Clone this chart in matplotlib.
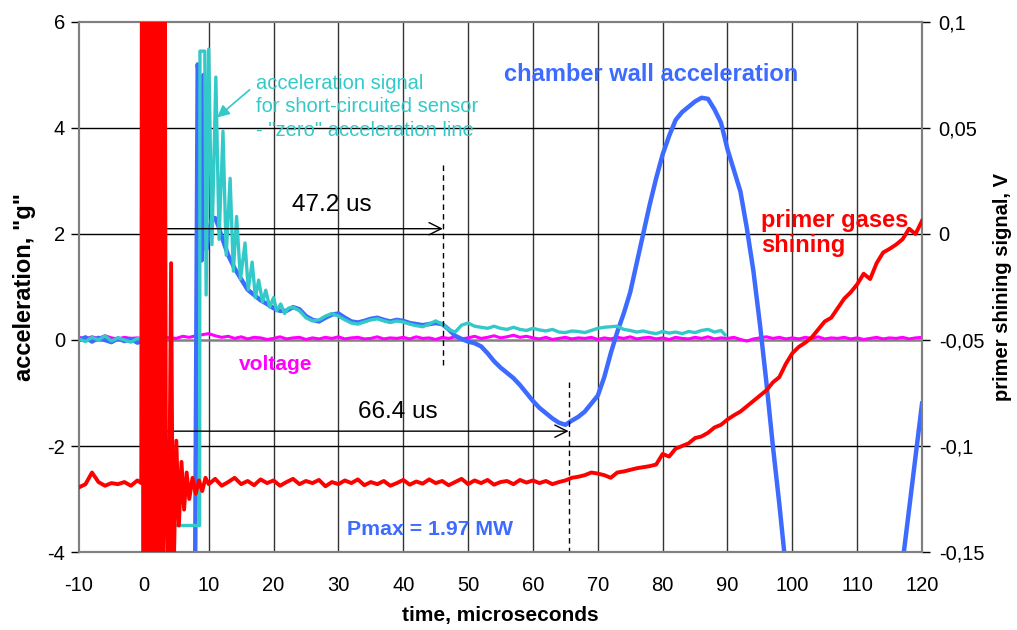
import numpy as np
import matplotlib
matplotlib.use("Agg")
from matplotlib import pyplot as plt

plt.rcParams['font.family'] = ['Liberation Sans', 'DejaVu Sans']
plt.rcParams['axes.unicode_minus'] = False

# time axis, microseconds
t_volt = list(range(-10, 121))
volt = [0.05, 0.02, 0.06, 0.03, 0.08, 0.04, 0.02, 0.05, 0.03, 0.04,
        0.02, 0.05, 0.03, 0.06, 0.04, 0.03, 0.07, 0.05, 0.08, 0.10,
        0.12, 0.08, 0.05, 0.07, 0.03, 0.06, 0.02, 0.05, 0.04, 0.01,
        0.03, 0.06, 0.02, 0.04, 0.05, 0.01, 0.04, 0.02, 0.05, 0.03,
        0.06, 0.02, 0.04, 0.05, 0.02, 0.03, 0.06, 0.02, 0.04, 0.03,
        0.05, 0.02, 0.06, 0.03, 0.04, 0.01, 0.05, 0.03, 0.06, 0.02,
        0.04, 0.07, 0.03, 0.05, 0.08, 0.04, 0.06, 0.09, 0.05, 0.07,
        0.04, 0.02, 0.05, 0.01, 0.03, 0.05, 0.02, 0.04, 0.03, 0.05,
        0.01, 0.04, 0.02, 0.05, 0.03, 0.06, 0.02, 0.04, 0.05, 0.02,
        0.04, 0.01, 0.05, 0.03, 0.02, 0.05, 0.03, 0.06, 0.02, 0.04,
        0.03, 0.05, 0.01, -0.02, 0.02, 0.04, 0.06, 0.03, 0.05, 0.02,
        0.04, 0.02, 0.05, 0.03, 0.06, 0.02, 0.04, 0.03, 0.05, 0.02,
        0.04, 0.01, 0.03, 0.05, 0.02, 0.04, 0.03, 0.05, 0.02, 0.04,
        0.05]

# chamber wall acceleration, g
t_wall = [-10, -9, -8, -7, -6, -5, -4, -3, -2, -1, 0, 0.1, 7.9, 8.3, 8.6, 8.9, 9.2, 9.6,
          10, 10.5, 11, 11.5, 12, 13, 14, 15, 16, 17, 18, 19, 20, 21, 22, 23, 24, 25,
          26, 27, 28, 29, 30, 31, 32, 33, 34, 35, 36, 37, 38, 39, 40, 41, 42, 43, 44,
          45, 46, 47, 48, 49, 50, 51, 52, 53, 54, 55, 56, 57, 58, 59, 60, 61, 62, 63,
          64, 65, 66, 67, 68, 69, 70, 71, 72, 73, 74, 75, 76, 77, 78, 79, 80, 81, 82,
          83, 84, 85, 86, 87, 88, 89, 90, 91, 92, 93, 94, 95, 96, 97, 98, 99, 100,
          108, 116, 117, 118, 119, 120]
wall = [0.0, 0.05, -0.03, 0.04, 0.0, -0.04, 0.03, -0.02, 0.02, -0.05, 0.0, -4.5, -4.5, 5.2,
        4.9, 1.5, 5.0, 1.7, 2.0, 2.3, 2.3, 2.15, 1.95, 1.6, 1.35, 1.15, 0.95, 0.85, 0.75,
        0.68, 0.6, 0.55, 0.55, 0.62, 0.58, 0.45, 0.38, 0.35, 0.42, 0.48, 0.5, 0.42, 0.35,
        0.33, 0.36, 0.4, 0.42, 0.38, 0.35, 0.38, 0.36, 0.32, 0.3, 0.28, 0.3, 0.32, 0.3,
        0.2, 0.08, 0.02, -0.03, -0.06, -0.12, -0.25, -0.4, -0.52, -0.62, -0.72, -0.85,
        -1.0, -1.15, -1.28, -1.38, -1.48, -1.56, -1.6, -1.52, -1.45, -1.35, -1.2, -1.05,
        -0.7, -0.25, 0.15, 0.5, 0.9, 1.45, 2.0, 2.55, 3.05, 3.5, 3.85, 4.15, 4.3, 4.4,
        4.5, 4.57, 4.55, 4.35, 4.1, 3.6, 3.2, 2.8, 2.1, 1.3, 0.3, -0.8, -2.0, -3.1, -4.3,
        -5.0, np.nan, -5.0, -4.2, -3.2, -2.2, -1.2]

# short-circuited sensor ("zero" acceleration line), g
t_zero = [-10, -9, -8, -7, -6, -5, -4, -3, -2, -1, 0, 0.05, 8.6, 8.65, 9.4, 9.6, 10.0,
          10.5, 11.1, 11.6, 12.2, 12.7, 13.3, 13.8, 14.3, 14.9, 15.6, 16.1, 16.7, 17.2,
          17.7, 18.3, 18.8, 19.4, 20.0, 20.5, 21.1, 21.7, 22.3, 23, 24, 25, 26, 27, 28,
          29, 30, 31, 32, 33, 34, 35, 36, 37, 38, 39, 40, 41, 42, 43, 44, 45, 46, 47,
          48, 49, 50, 51, 52, 53, 54, 55, 56, 57, 58, 59, 60, 61, 62, 63, 64, 65, 66,
          67, 68, 69, 70, 71, 72, 73, 74, 75, 76, 77, 78, 79, 80, 81, 82, 83, 84, 85,
          86, 87, 88, 89, 89.6]
zero = [0.02, -0.03, 0.05, 0.0, 0.08, -0.02, 0.04, 0.0, -0.04, 0.03, 0.0, -3.5, -3.5,
        5.45, 5.45, 0.85, 5.49, 1.8, 4.96, 1.9, 3.94, 1.6, 3.05, 1.3, 2.33, 1.15, 1.83,
        0.95, 1.47, 0.8, 1.13, 0.72, 0.94, 0.62, 0.8, 0.55, 0.68, 0.5, 0.6, 0.62, 0.55,
        0.42, 0.36, 0.38, 0.45, 0.5, 0.45, 0.38, 0.32, 0.3, 0.34, 0.38, 0.4, 0.36, 0.33,
        0.36, 0.34, 0.3, 0.27, 0.25, 0.3, 0.36, 0.3, 0.2, 0.15, 0.28, 0.32, 0.26, 0.24,
        0.22, 0.26, 0.22, 0.2, 0.24, 0.2, 0.18, 0.22, 0.19, 0.17, 0.2, 0.15, 0.14, 0.17,
        0.16, 0.14, 0.18, 0.22, 0.24, 0.25, 0.26, 0.2, 0.18, 0.15, 0.17, 0.14, 0.12,
        0.16, 0.13, 0.15, 0.12, 0.16, 0.14, 0.18, 0.2, 0.15, 0.18, 0.1]

# primer gases shining, read on the left scale (g units), converted to volts below
t_shine = [-10, -9, -8, -7, -6, -5, -4, -3, -2, -1, -0.4,
           -0.3, -0.05, 0.2, 0.45, 0.7, 0.95, 1.2, 1.45, 1.7, 1.95, 2.2, 2.45, 2.7, 2.95, 3.2,
           3.4, 3.8, 4.2, 4.5, 5.0, 5.4, 5.8, 6.2, 6.6, 7.0, 7.5, 8.0, 8.5, 9.0, 9.5,
           10, 11, 12, 13, 14, 15, 16, 17, 18, 19, 20, 21, 22, 23, 24, 25, 26, 27, 28, 29,
           30, 31, 32, 33, 34, 35, 36, 37, 38, 39, 40, 41, 42, 43, 44, 45, 46, 47, 48, 49,
           50, 51, 52, 53, 54, 55, 56, 57, 58, 59, 60, 61, 62, 63, 64, 65, 66, 67, 68, 69,
           70, 71, 72, 73, 74, 75, 76, 77, 78, 79, 80, 81, 82, 83, 84, 85, 86, 87, 88, 89,
           90, 91, 92, 93, 94, 95, 96, 97, 98, 99, 100, 101, 102, 103, 104, 105, 106, 107,
           108, 109, 110, 111, 112, 113, 114, 115, 116, 117, 118, 119, 120]
shine_g = [-2.78, -2.72, -2.5, -2.68, -2.75, -2.7, -2.72, -2.68, -2.75, -2.65, -2.7,
           8, -6, 8, -6, 8, -6, 8, -6, 8, -6, 8, -6, 8, -6, 8,
           -2.5, -5, 1.45, -5, -1.9, -3.5, -2.3, -3.2, -2.5, -3.0, -2.6, -2.9, -2.65, -2.85, -2.6,
           -2.72, -2.62, -2.75, -2.68, -2.6, -2.72, -2.66, -2.74, -2.63, -2.7, -2.65, -2.75,
           -2.68, -2.62, -2.72, -2.66, -2.7, -2.64, -2.76, -2.68, -2.72, -2.65, -2.7, -2.63,
           -2.74, -2.68, -2.72, -2.66, -2.75, -2.7, -2.64, -2.73, -2.67, -2.71, -2.63, -2.7,
           -2.66, -2.74, -2.68, -2.62, -2.72, -2.65, -2.7, -2.64, -2.73, -2.68, -2.66, -2.72,
           -2.64, -2.69, -2.65, -2.7, -2.66, -2.72, -2.68, -2.65, -2.6, -2.58, -2.55, -2.5,
           -2.52, -2.55, -2.6, -2.5, -2.48, -2.45, -2.42, -2.4, -2.38, -2.35, -2.15, -2.2,
           -2.05, -2.0, -1.95, -1.85, -1.82, -1.75, -1.65, -1.6, -1.5, -1.42, -1.35, -1.25,
           -1.15, -1.05, -0.95, -0.8, -0.7, -0.45, -0.25, -0.13, -0.05, 0.05, 0.2, 0.35,
           0.42, 0.6, 0.78, 0.9, 1.05, 1.25, 1.15, 1.45, 1.65, 1.72, 1.8, 1.9, 2.1, 2.0, 2.25]

shine_v = (np.array(shine_g) - 2) * 0.025

xticks = list(range(-10, 121, 10))
left_ticks = [-4, -2, 0, 2, 4, 6]
right_ticks = [-0.15, -0.1, -0.05, 0, 0.05, 0.1]
right_labels = ['-0,15', '-0,1', '-0,05', '0', '0,05', '0,1']

c_blue = '#3d6bff'
c_cyan = '#33c9c9'
c_mag = '#ff00ff'
c_red = '#ff0000'

fig = plt.figure(figsize=(10.17, 6.30), dpi=100)
ax = fig.add_axes([0.0777, 0.1238, 0.8289, 0.8413])

for x in xticks[1:-1]:
    ax.axvline(x, color='#333333', lw=1, zorder=1)
for y in [-2, 2, 4]:
    ax.axhline(y, color='black', lw=1, zorder=1)
ax.axhline(0, color='#808080', lw=1.8, zorder=1)

ax.plot(t_volt, volt, color=c_mag, lw=2.2, zorder=3)
ax.plot(t_wall, wall, color=c_blue, lw=3.2, zorder=4)
ax.plot(t_zero, zero, color=c_cyan, lw=2.4, zorder=5)

ax.set_xlim(-10, 120)
ax.set_ylim(-4, 6)
ax.set_xticks(xticks)
ax.set_yticks(left_ticks)
ax.tick_params(axis='x', length=0, pad=17, labelsize=14.5)
ax.tick_params(axis='y', length=6, width=1, color='black', labelsize=14.5, pad=4)
for s in ax.spines.values():
    s.set_color('#808080')
    s.set_linewidth(1.5)
ax.set_xlabel('time, microseconds', fontsize=15, fontweight='bold', labelpad=8)
ax.set_ylabel('acceleration, "g"', fontsize=17, fontweight='bold', labelpad=8)

ax2 = ax.twinx()
ax2.plot(t_shine, shine_v, color=c_red, lw=2.8, zorder=6)
ax2.set_ylim(-0.15, 0.1)
ax2.set_yticks(right_ticks)
ax2.set_yticklabels(right_labels)
ax2.tick_params(axis='y', length=6, width=1, color='black', labelsize=14.5, pad=6)
for s in ax2.spines.values():
    s.set_color('#808080')
    s.set_linewidth(1.5)
ax2.set_ylabel('primer shining signal, V', fontsize=14.5, fontweight='bold',
               rotation=90, labelpad=6)

# interval arrows and markers
ax2.set_zorder(ax.get_zorder() + 1)
ax2.patch.set_visible(False)
ax.annotate('', xy=(0, 2.1), xytext=(46.1, 2.1),
            arrowprops=dict(arrowstyle='<->', color='black', lw=1, mutation_scale=22,
                            shrinkA=0, shrinkB=0), zorder=8)
ax.plot([46.1, 46.1], [3.3, -0.5], color='black', lw=1, ls=(0, (4, 3)), zorder=8)
ax.text(29.0, 2.55, '47.2 us', fontsize=17.5, ha='center', va='center', zorder=8)

ax.annotate('', xy=(0, -1.72), xytext=(65.5, -1.72),
            arrowprops=dict(arrowstyle='<->', color='black', lw=1, mutation_scale=22,
                            shrinkA=0, shrinkB=0), zorder=8)
ax.plot([65.5, 65.5], [-0.8, -4], color='black', lw=1, ls=(0, (4, 3)), zorder=8)
ax.text(39.2, -1.36, '66.4 us', fontsize=17.5, ha='center', va='center', zorder=8)

ax.text(17.3, 4.4, 'acceleration signal\nfor short-circuited sensor\n- "zero" acceleration line',
        color=c_cyan, fontsize=14.5, ha='left', va='center', linespacing=1.3, zorder=8)
ax.annotate('', xy=(11.3, 4.2), xytext=(16.3, 4.72),
            arrowprops=dict(arrowstyle='-|>', color=c_cyan, lw=1.2, mutation_scale=18,
                            shrinkA=0, shrinkB=0), zorder=8)
ax.text(55.5, 5.0, 'chamber wall acceleration', color=c_blue, fontsize=17,
        fontweight='bold', ha='left', va='center', zorder=8)
ax.text(14.6, -0.47, 'voltage', color=c_mag, fontsize=15, fontweight='bold',
        ha='left', va='center', zorder=8)
ax.text(31.3, -3.58, 'Pmax = 1.97 MW', color=c_blue, fontsize=15.3, fontweight='bold',
        ha='left', va='center', zorder=8)
ax.text(95.2, 2.02, 'primer gases\nshining', color=c_red, fontsize=17, fontweight='bold',
        ha='left', va='center', linespacing=1.15, zorder=8)

fig.savefig('out.png', dpi=100)
